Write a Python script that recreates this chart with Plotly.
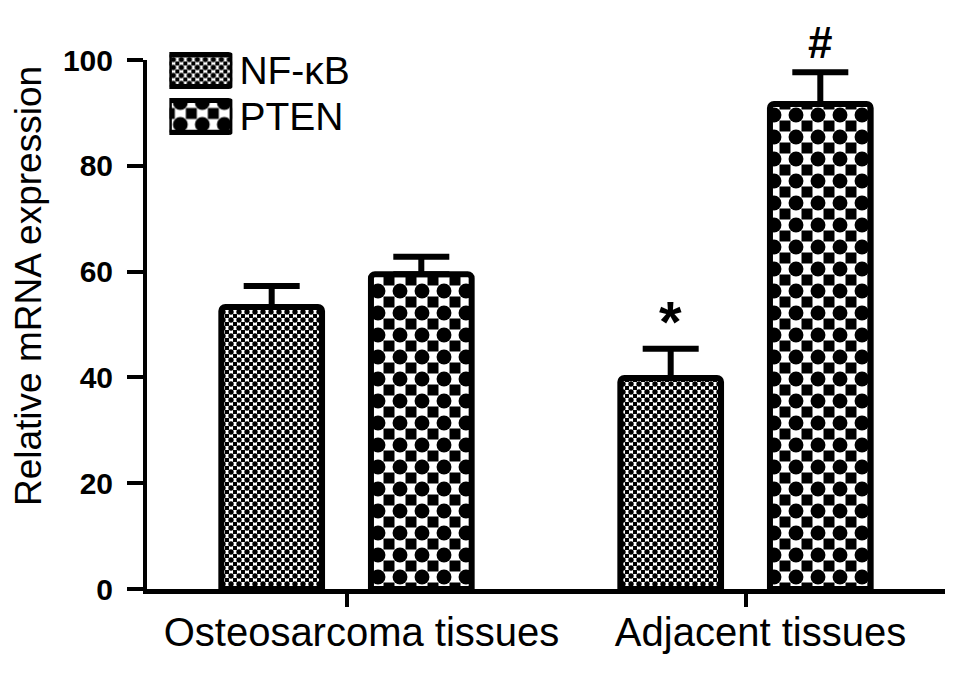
import plotly.graph_objects as go

# ---------------- data ----------------
categories = ["Osteosarcoma tissues", "Adjacent tissues"]
series_names = ["NF-κB", "PTEN"]
nfkb_values = [53.3, 39.9]
nfkb_errors = [4.0, 5.5]
pten_values = [59.5, 91.7]
pten_errors = [3.3, 6.0]
nfkb_marks = ["", "*"]
pten_marks = ["", "#"]
y_ticks = [0, 20, 40, 60, 80, 100]
y_title = "Relative mRNA expression"

# ---------------- style ----------------
FONT = "Liberation Sans, Arial, Helvetica, sans-serif"
BARGAP = 0.25
BARGROUPGAP = 0.327
CHECKER_PERIOD = {"NF-κB": 8, "PTEN": 22}
CROSS_SOLIDITY = 0.75   # white cross = half the period -> black corner squares
DOT_SOLIDITY = 0.36     # black dot in the centre of the white cross -> checkerboard
OUTLINE = 6
MARK_STYLE = {"*": dict(size=58, yshift=-7), "#": dict(size=44, yshift=3)}

fig = go.Figure()


def add_checker_bars(name, x, y, err):
    period = CHECKER_PERIOD[name]
    # layer 1: black background with white cross (black squares at tile corners)
    fig.add_trace(go.Bar(
        name=name, x=x, y=y, offsetgroup=name, showlegend=False, hoverinfo="skip",
        marker=dict(color="black", line=dict(width=0),
                    pattern=dict(shape="+", size=period, solidity=CROSS_SOLIDITY,
                                 fgcolor="white", bgcolor="black", fgopacity=1,
                                 fillmode="overlay")),
    ))
    # layer 2: black dot at the tile centre, plus outline and error bar
    fig.add_trace(go.Bar(
        name=name, x=x, y=y, offsetgroup=name, showlegend=False,
        marker=dict(color="rgba(0,0,0,0)", line=dict(color="black", width=OUTLINE),
                    pattern=dict(shape=".", size=period, solidity=DOT_SOLIDITY,
                                 fgcolor="black", bgcolor="rgba(0,0,0,0)", fgopacity=1,
                                 fillmode="overlay")),
        error_y=dict(type="data", array=err, arrayminus=[0] * len(err), symmetric=False,
                     color="black", thickness=6, width=28),
    ))


add_checker_bars(series_names[0], categories, nfkb_values, nfkb_errors)
add_checker_bars(series_names[1], categories, pten_values, pten_errors)

# ---------------- legend (swatches drawn as bars on a small inset axis) ----------------
legend_periods = [CHECKER_PERIOD[n] for n in series_names]
SW = 0.7
fig.add_trace(go.Bar(
    x=[1] * len(series_names), y=series_names, orientation="h", xaxis="x2", yaxis="y2",
    width=SW, offset=-SW / 2, showlegend=False, hoverinfo="skip",
    marker=dict(color="black", line=dict(width=0),
                pattern=dict(shape="+", size=legend_periods, solidity=CROSS_SOLIDITY,
                             fgcolor="white", bgcolor="black", fgopacity=1, fillmode="overlay")),
))
fig.add_trace(go.Bar(
    x=[1] * len(series_names), y=series_names, orientation="h", xaxis="x2", yaxis="y2",
    width=SW, offset=-SW / 2, showlegend=False, hoverinfo="skip",
    marker=dict(color="rgba(0,0,0,0)", line=dict(color="black", width=5),
                pattern=dict(shape=".", size=legend_periods, solidity=DOT_SOLIDITY,
                             fgcolor="black", bgcolor="rgba(0,0,0,0)", fgopacity=1,
                             fillmode="overlay")),
))

# ---------------- significance marks ----------------
slot = (1 - BARGAP) / 2
for i in range(len(categories)):
    for marks, vals, errs, side in ((nfkb_marks, nfkb_values, nfkb_errors, -1),
                                     (pten_marks, pten_values, pten_errors, 1)):
        if marks[i]:
            st = MARK_STYLE[marks[i]]
            fig.add_annotation(
                x=i + side * slot / 2, y=vals[i] + errs[i], xref="x", yref="y",
                text=marks[i], showarrow=False, yanchor="bottom", yshift=st["yshift"],
                font=dict(size=st["size"], family=FONT, color="black", weight="bold"),
            )

# ---------------- layout ----------------
M_L, M_R, M_T, M_B = 139, 30, 12, 98
plot_w = 967 - M_L - M_R
plot_h = 679 - M_T - M_B

# y-axis title (placed as rotated text, off-centre as in the original)
fig.add_annotation(
    x=(20 - M_L) / plot_w, y=0.5325, xref="paper", yref="paper", text=y_title, textangle=-90,
    showarrow=False, xanchor="center", yanchor="middle",
    font=dict(size=37, family=FONT, color="black"),
)

fig.update_layout(
    width=967, height=679,
    margin=dict(l=M_L, r=M_R, t=M_T, b=M_B, autoexpand=False),
    paper_bgcolor="white", plot_bgcolor="white",
    barmode="group", bargap=BARGAP, bargroupgap=BARGROUPGAP, barcornerradius=4,
    showlegend=False,
    font=dict(family=FONT, color="black"),
    xaxis=dict(
        domain=[0, 1], range=[-0.5, 1.5], anchor="y", automargin=False,
        showline=True, linewidth=5, linecolor="black",
        ticks="outside", ticklen=13, tickwidth=4, tickcolor="black",
        tickfont=dict(size=40, family=FONT, color="black"),
        ticklabelstandoff=-9, ticklabelshift=15,
        showgrid=False, zeroline=False,
    ),
    yaxis=dict(
        domain=[0, 529 / plot_h], range=[0, 100], anchor="x", automargin=False,
        tickvals=y_ticks,
        showline=True, linewidth=4, linecolor="black",
        ticks="outside", ticklen=16, tickwidth=4, tickcolor="black",
        tickfont=dict(size=30, family=FONT, color="black", weight="bold"),
        ticklabelstandoff=8,
        showgrid=False, zeroline=False,
    ),
    xaxis2=dict(domain=[0.028, 0.107], range=[0, 1], anchor="y2", visible=False,
                automargin=False),
    yaxis2=dict(
        domain=[0.790, 0.9517], anchor="x2", side="right", autorange="reversed",
        tickmode="array", tickvals=series_names, automargin=False,
        showgrid=False, zeroline=False, showline=False, ticks="",
        tickfont=dict(size=39, family=FONT, color="black"), ticklabelstandoff=6,
    ),
)

fig.write_html("out.html")
